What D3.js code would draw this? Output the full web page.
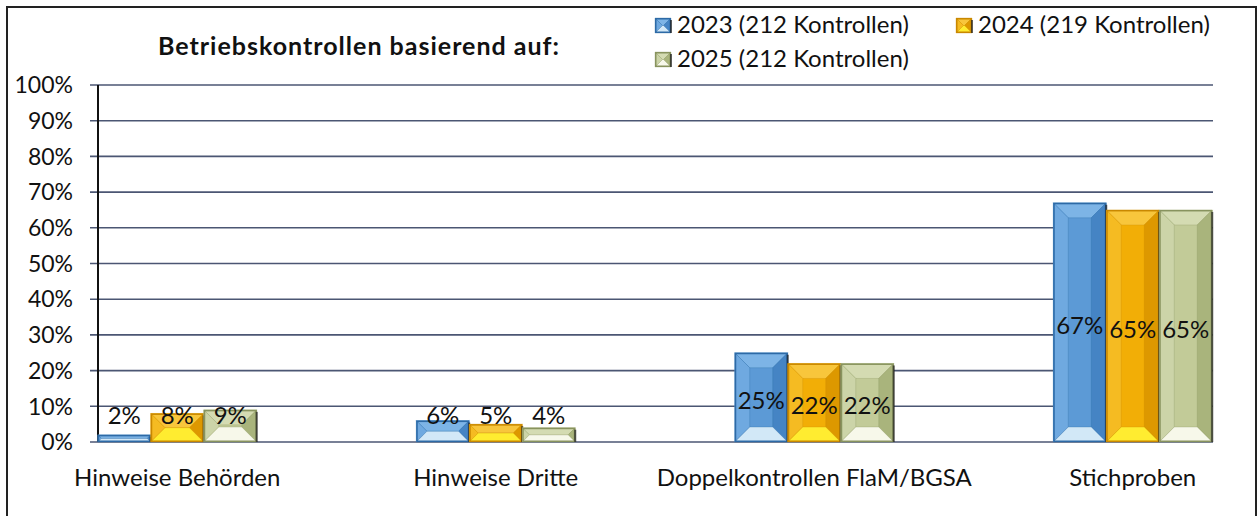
<!DOCTYPE html>
<html>
<head>
<meta charset="utf-8">
<script src="https://cdn.jsdelivr.net/npm/d3@7"></script>
<style>
  body { margin: 0; background: #fff; }
  text { font-family: Lato, "Open Sans", sans-serif; fill: #111; }
</style>
</head>
<body>
<script>
var width = 1258, height = 516;

// data
var categories = ["Hinweise Behörden", "Hinweise Dritte", "Doppelkontrollen FlaM/BGSA", "Stichproben"];
var series = ["2023 (212 Kontrollen)", "2024 (219 Kontrollen)", "2025 (212 Kontrollen)"];
var values2023 = [2, 6, 25, 67];
var values2024 = [8, 5, 22, 65];
var values2025 = [9, 4, 22, 65];
var yTicks = [0, 10, 20, 30, 40, 50, 60, 70, 80, 90, 100];
var title = "Betriebskontrollen basierend auf:";

var allValues = [values2023, values2024, values2025];

// bevel colours per series: base, border, top, left, right, bottom
var palette = [
  {base: "#5c9ad6", edge: "#2d6aa6", top: "#7db4e6", left: "#6fa9e0", right: "#4584c4", bottom: "#d2e8f7"},
  {base: "#f2ae06", edge: "#c98800", top: "#f8c63c", left: "#f5bb22", right: "#dd9800", bottom: "#ffec30"},
  {base: "#c2cb98", edge: "#88935e", top: "#d4dbb2", left: "#ccd4a8", right: "#a9b47c", bottom: "#f7f8ea"}
];

var svg = d3.select("body")
            .append("svg")
            .attr("width", width)
            .attr("height", height);

// outer frame (no bottom edge visible in the scan)
svg.append("path")
   .attr("d", "M7,516 L7,7 L1256,7 L1256,516")
   .attr("fill", "none")
   .attr("stroke", "#222")
   .attr("stroke-width", 2);

var y = d3.scaleLinear()
          .domain([0, 100])
          .range([442, 85]);

var x0 = d3.scaleBand()
           .domain(categories)
           .range([18, 1292]);

var x1 = d3.scaleBand()
           .domain(series)
           .range([0, 159]);

// grid lines
svg.append("g")
   .selectAll("line")
   .data(yTicks)
   .enter()
   .append("line")
   .attr("x1", 90)
   .attr("x2", 1213)
   .attr("y1", function(d) { return y(d); })
   .attr("y2", function(d) { return y(d); })
   .attr("stroke", "#4b5673")
   .attr("stroke-width", 1.6);

// y axis labels
svg.append("g")
   .selectAll("text")
   .data(yTicks)
   .enter()
   .append("text")
   .attr("x", 73)
   .attr("y", function(d) { return y(d); })
   .attr("dy", "0.36em")
   .attr("text-anchor", "end")
   .attr("font-size", 23)
   .text(function(d) { return d + "%"; });

// y axis line
svg.append("line")
   .attr("x1", 98).attr("x2", 98)
   .attr("y1", y(100)).attr("y2", y(0))
   .attr("stroke", "#111")
   .attr("stroke-width", 2);

// one bevelled bar
function drawBar(g, bx, by, bw, bh, c) {
  var d = Math.min(15, bh / 2, bw / 2);
  var x2 = bx + bw, y2 = by + bh;
  g.append("rect")
   .attr("x", bx).attr("y", by)
   .attr("width", bw).attr("height", bh)
   .attr("fill", c.base);
  var faces = [
    {pts: [[bx, by], [x2, by], [x2 - d, by + d], [bx + d, by + d]], fill: c.top},
    {pts: [[bx, by], [bx + d, by + d], [bx + d, y2 - d], [bx, y2]], fill: c.left},
    {pts: [[x2, by], [x2, y2], [x2 - d, y2 - d], [x2 - d, by + d]], fill: c.right},
    {pts: [[bx, y2], [bx + d, y2 - d], [x2 - d, y2 - d], [x2, y2]], fill: c.bottom}
  ];
  g.selectAll(null)
   .data(faces)
   .enter()
   .append("polygon")
   .attr("points", function(f) { return f.pts.map(function(p) { return p.join(","); }).join(" "); })
   .attr("fill", function(f) { return f.fill; })
   .attr("stroke", c.edge)
   .attr("stroke-width", 0.6)
   .attr("stroke-opacity", 0.5);
  g.append("rect")
   .attr("x", bx + 0.75).attr("y", by + 0.75)
   .attr("width", bw - 1.5).attr("height", bh - 1.5)
   .attr("fill", "none")
   .attr("stroke", c.edge)
   .attr("stroke-width", 1.5);
  // little dark depth shadow on the right
  g.append("rect")
   .attr("x", x2 - 1).attr("y", by + 2)
   .attr("width", 2).attr("height", bh - 2)
   .attr("fill", "#1c1c1c")
   .attr("opacity", 0.7);
}

var bars = svg.append("g").attr("class", "bars");
var labels = svg.append("g").attr("class", "labels");

categories.forEach(function(cat, i) {
  var left = x0(cat) + x0.bandwidth() / 2 - 79.5;
  series.forEach(function(s, j) {
    var v = allValues[j][i];
    var bx = left + x1(s), bw = x1.bandwidth();
    var by = y(v), bh = y(0) - y(v);
    drawBar(bars.append("g"), bx, by, bw, bh, palette[j]);
    var ly = Math.min(by + bh / 2 + 3, y(0) - 27);
    labels.append("text")
          .attr("x", bx + bw / 2)
          .attr("y", ly)
          .attr("dy", "0.36em")
          .attr("text-anchor", "middle")
          .attr("font-size", 24)
          .text(v + "%");
  });
});

// category labels
svg.append("g")
   .selectAll("text")
   .data(categories)
   .enter()
   .append("text")
   .attr("x", function(d) { return x0(d) + x0.bandwidth() / 2; })
   .attr("y", 486)
   .attr("text-anchor", "middle")
   .attr("font-size", 24)
   .text(function(d) { return d; });

// title
svg.append("text")
   .attr("x", 359)
   .attr("y", 55)
   .attr("text-anchor", "middle")
   .attr("font-size", 25)
   .attr("font-weight", "bold")
   .attr("letter-spacing", 1)
   .text(title);

// legend
var legendPos = [[655, 33], [956, 33], [655, 67]];
var legend = svg.append("g").attr("class", "legend");
series.forEach(function(s, j) {
  var p = legendPos[j];
  var g = legend.append("g");
  drawBar(g, p[0], p[1] - 15, 16, 15, palette[j]);
  g.append("text")
   .attr("x", p[0] + 22)
   .attr("y", p[1])
   .attr("font-size", 24)
   .text(s);
});
</script>
</body>
</html>
